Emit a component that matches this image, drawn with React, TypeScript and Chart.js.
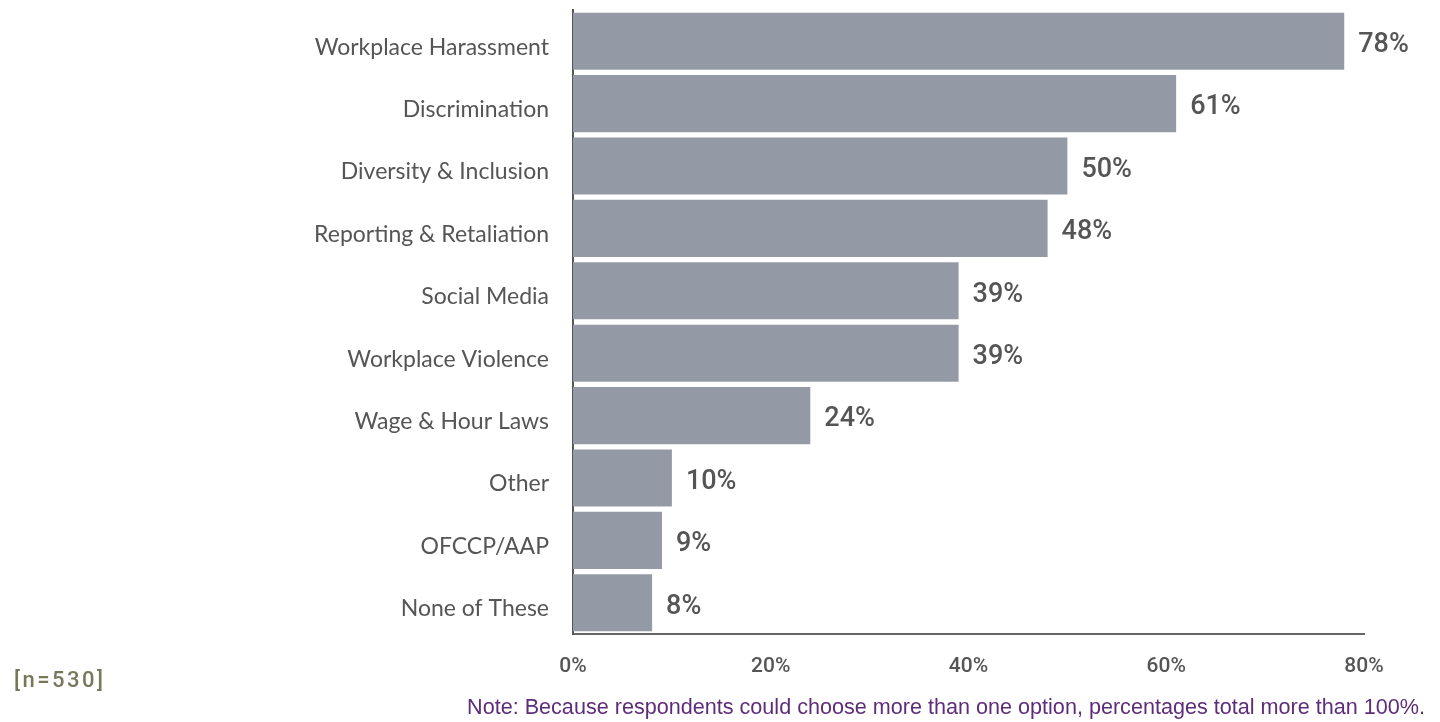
import React, { useEffect, useRef } from "react";
import { Chart, registerables } from "chart.js";

Chart.register(...registerables);

const categories = [
  "Workplace Harassment",
  "Discrimination",
  "Diversity & Inclusion",
  "Reporting & Retaliation",
  "Social Media",
  "Workplace Violence",
  "Wage & Hour Laws",
  "Other",
  "OFCCP/AAP",
  "None of These",
];
const values = [78, 61, 50, 48, 39, 39, 24, 10, 9, 8];
const tickValues = [0, 20, 40, 60, 80];
const sampleNote = "[n=530]";
const footNote =
  "Note: Because respondents could choose more than one option, percentages total more than 100%.";

const VALUE_FONT = "500 27px Roboto";
const TICK_FONT = "500 21px Roboto";
const CAT_FONT = "400 23px Lato";
const N_FONT = "500 22px Roboto";
const NOTE_FONT = "400 21.6px 'Liberation Sans'";

const valueLabelPlugin = {
  id: "valueLabels",
  afterDatasetsDraw(chart: any) {
    const ctx = chart.ctx;
    const meta = chart.getDatasetMeta(0);
    ctx.save();
    ctx.font = VALUE_FONT;
    ctx.fillStyle = "#555555";
    ctx.textAlign = "left";
    ctx.textBaseline = "middle";
    meta.data.forEach((bar: any, i: number) => {
      ctx.fillText(values[i] + "%", bar.x + 14, bar.y + 4);
    });
    ctx.restore();
  },
};

const footerPlugin = {
  id: "footer",
  afterDraw(chart: any) {
    const ctx = chart.ctx;
    ctx.save();
    ctx.textBaseline = "alphabetic";
    ctx.font = N_FONT;
    ctx.fillStyle = "#77785a";
    ctx.textAlign = "left";
    try {
      (ctx as any).letterSpacing = "2.5px";
    } catch (e) {}
    ctx.fillText(sampleNote, 14, 687);
    try {
      (ctx as any).letterSpacing = "0px";
    } catch (e) {}
    ctx.font = NOTE_FONT;
    ctx.fillStyle = "#5e2d79";
    ctx.textAlign = "right";
    ctx.fillText(footNote, 1425, 714);
    ctx.restore();
  },
};

export default function App() {
  const ref = useRef<HTMLCanvasElement>(null);
  useEffect(() => {
    document.body.style.margin = "0";
    let chart: any = null;
    let cancelled = false;
    const fonts = [VALUE_FONT, TICK_FONT, CAT_FONT, N_FONT, NOTE_FONT];
    Promise.all(fonts.map((f) => document.fonts.load(f).catch(() => null)))
      .catch(() => null)
      .then(() => {
        if (cancelled || !ref.current) return;
        chart = new Chart(ref.current, {
          type: "bar",
          data: {
            labels: categories,
            datasets: [
              {
                data: values,
                backgroundColor: "#939aa6",
                barPercentage: 1,
                categoryPercentage: 0.915,
              },
            ],
          },
          options: {
            indexAxis: "y",
            animation: false,
            responsive: false,
            layout: { padding: { left: 0, right: 76, top: 10, bottom: 0 } },
            plugins: { legend: { display: false }, tooltip: { enabled: false } },
            scales: {
              x: {
                min: 0,
                max: 80,
                afterBuildTicks: (scale: any) => {
                  scale.ticks = tickValues.map((v) => ({ value: v }));
                },
                grid: { display: false, drawTicks: false },
                border: { display: true, color: "#666666", width: 2 },
                ticks: {
                  padding: 20,
                  color: "#555555",
                  font: { family: "Roboto", size: 21, weight: "500" },
                  callback: (v: any) => v + "%",
                },
                afterFit: (scale: any) => {
                  scale.height = 88;
                  scale.paddingLeft = 0;
                  scale.paddingRight = 0;
                },
              },
              y: {
                grid: { display: false, drawTicks: false },
                border: { display: true, color: "#555555", width: 2 },
                ticks: {
                  padding: 24,
                  labelOffset: 6,
                  color: "#555555",
                  font: { family: "Lato", size: 23, weight: "400" },
                },
                afterFit: (scale: any) => {
                  scale.width = 573;
                  scale.paddingTop = 0;
                  scale.paddingBottom = 0;
                },
              },
            },
          },
          plugins: [valueLabelPlugin, footerPlugin],
        });
      });
    return () => {
      cancelled = true;
      if (chart) chart.destroy();
    };
  }, []);

  return (
    <div style={{ position: "relative", width: 1440, height: 722, background: "#fff" }}>
      <canvas ref={ref} width={1440} height={722} style={{ position: "absolute", left: 0, top: 0 }} />
    </div>
  );
}
